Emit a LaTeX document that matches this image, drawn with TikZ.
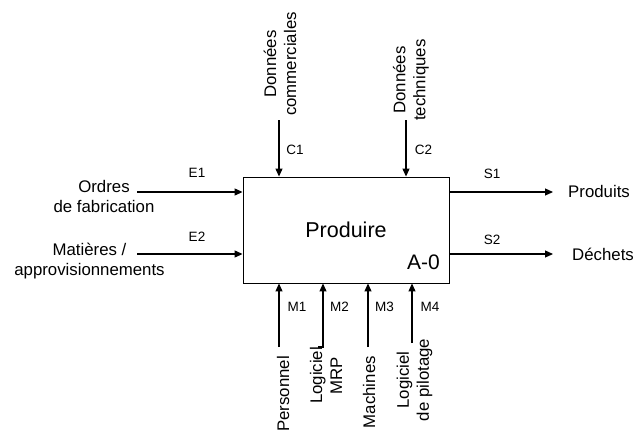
\documentclass[tikz,border=0pt]{standalone}
\usepackage{fontspec}
\setmainfont{Liberation Sans}
\usetikzlibrary{arrows.meta}
\begin{document}
\begin{tikzpicture}[x=1pt,y=-1pt,
  flow/.style={line width=1.1pt, -{Triangle[length=8pt,width=7pt]}},
  lbl/.style={font=\fontsize{16.8}{20}\selectfont, align=center, inner sep=0pt},
  vlbl/.style={lbl, rotate=90},
  tag/.style={font=\fontsize{13.5}{16}\selectfont, inner sep=0pt},
  activity/.style={draw, line width=0.9pt, minimum width=206pt, minimum height=106pt, inner sep=0pt}]
\useasboundingbox (0,0) rectangle (634,432);

% activity box
\node[activity] (box) at (346,230) {};
\node[font=\fontsize{21.5}{24}\selectfont, inner sep=0pt, anchor=base] (title) at (346,237) {Produire};
\node[font=\fontsize{21}{24}\selectfont, inner sep=0pt, anchor=base east] (num) at (440,269) {A-0};

% inputs (base anchor sits on the last line)
\node[lbl, anchor=base] (in1) at (104,212) {Ordres\\de fabrication};
\node[lbl, anchor=base] (in2) at (89.5,275) {Matières /\\approvisionnements};
\coordinate (e1) at (137,192);
\coordinate (e2) at (137,254);
\draw[flow] (e1) -- (e1 -| box.west);
\draw[flow] (e2) -- (e2 -| box.west);
\node[tag] (te1) at (197,173) {E1};
\node[tag] (te2) at (197,237) {E2};

% outputs
\coordinate (s1) at (553,192);
\coordinate (s2) at (553,254);
\draw[flow] (s1 -| box.east) -- (s1);
\draw[flow] (s2 -| box.east) -- (s2);
\node[lbl, anchor=base west] (out1) at (568,197) {Produits};
\node[lbl, anchor=base west] (out2) at (572,260) {Déchets};
\node[tag] (ts1) at (492,174) {S1};
\node[tag] (ts2) at (492,240) {S2};

% controls
\node[vlbl, anchor=west] (ctl1) at (280,116) {Données\\commerciales};
\node[vlbl, anchor=west] (ctl2) at (411,121) {Données\\techniques};
\coordinate (c1) at (279,120);
\coordinate (c2) at (406,120);
\draw[flow] (c1) -- (c1 |- box.north);
\draw[flow] (c2) -- (c2 |- box.north);
\node[tag] (tc1) at (295,150) {C1};
\node[tag] (tc2) at (423.5,150) {C2};

% mechanisms
\node[vlbl, anchor=east] (mec1) at (283,356) {Personnel};
\node[vlbl] (mec2) at (326,375.5) {Logiciel\\MRP};
\node[vlbl, anchor=east] (mec3) at (369,356) {Machines};
\node[vlbl] (mec4) at (414.5,380) {Logiciel\\de pilotage};
\coordinate (m1) at (279,347);
\coordinate (m2h) at (318,347);
\coordinate (m2) at (323,347);
\coordinate (m3) at (368,347);
\coordinate (m4) at (412,343);
\draw[flow] (m1) -- (m1 |- box.south);
\draw[flow] (m2h) -- (m2) -- (m2 |- box.south);
\draw[flow] (m3) -- (m3 |- box.south);
\draw[flow] (m4) -- (m4 |- box.south);
\node[tag] (tm1) at (297,307) {M1};
\node[tag] (tm2) at (339.5,307) {M2};
\node[tag] (tm3) at (384.5,307) {M3};
\node[tag] (tm4) at (430,307) {M4};
\end{tikzpicture}
\end{document}
